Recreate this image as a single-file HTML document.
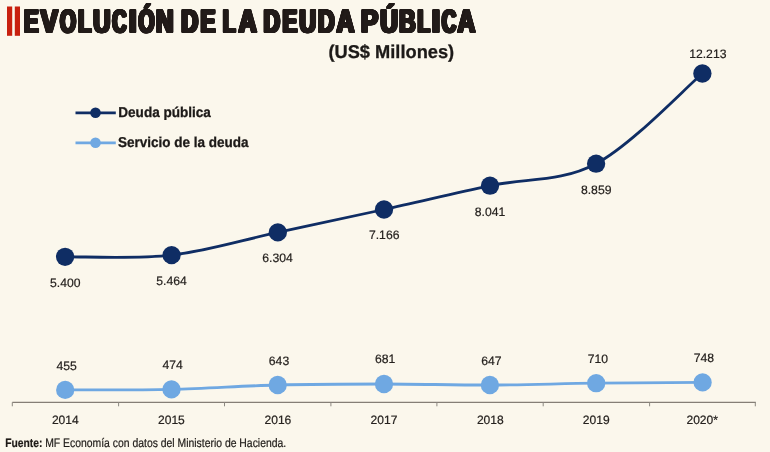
<!DOCTYPE html>
<html><head><meta charset="utf-8"><title>Evolución de la deuda pública</title>
<style>
html,body{margin:0;padding:0;background:#fbf7ec;}
body{width:770px;height:452px;overflow:hidden;position:relative;font-family:"Liberation Sans",sans-serif;}
svg{position:absolute;left:0;top:0;display:block;will-change:transform}
text{font-family:"Liberation Sans",sans-serif;fill:#26221f;text-rendering:geometricPrecision}
.v,.y{stroke:#26221f;stroke-width:0.2px}
.t{fill:#221b19}
.v{font-size:12.2px;text-anchor:middle}
.y{font-size:12.05px;text-anchor:middle}
</style></head><body>
<svg width="770" height="452" viewBox="0 0 770 452">
<rect x="0" y="0" width="770" height="452" fill="#fbf7ec"/>

<rect x="7" y="6.5" width="5.2" height="29.3" fill="#c8200f"/>
<rect x="14.8" y="6.5" width="5.2" height="29.3" fill="#c8200f"/>
<defs><g id="T" font-size="32.56" font-weight="bold" style="fill:#231c1a">
<text class="t" transform="translate(24.03,32.20) scale(0.6734,1)">E</text>
<text class="t" transform="translate(40.62,32.20) scale(0.7945,1)">V</text>
<text class="t" transform="translate(60.06,32.20) scale(0.6321,1)">O</text>
<text class="t" transform="translate(78.25,32.20) scale(0.6643,1)">L</text>
<text class="t" transform="translate(93.27,32.20) scale(0.7307,1)">U</text>
<text class="t" transform="translate(112.29,32.20) scale(0.6060,1)">C</text>
<text class="t" transform="translate(128.75,32.20) scale(0.8956,1)">I</text>
<text class="t" transform="translate(138.56,32.20) scale(0.6321,1)">Ó</text>
<text class="t" transform="translate(155.97,32.20) scale(0.7471,1)">N</text>
<text class="t" transform="translate(181.34,32.20) scale(0.7162,1)">D</text>
<text class="t" transform="translate(200.62,32.20) scale(0.6788,1)">E</text>
<text class="t" transform="translate(222.79,32.20) scale(0.6464,1)">L</text>
<text class="t" transform="translate(238.58,32.20) scale(0.7691,1)">A</text>
<text class="t" transform="translate(263.58,32.20) scale(0.6961,1)">D</text>
<text class="t" transform="translate(282.52,32.20) scale(0.6788,1)">E</text>
<text class="t" transform="translate(299.41,32.20) scale(0.7103,1)">U</text>
<text class="t" transform="translate(317.96,32.20) scale(0.7062,1)">D</text>
<text class="t" transform="translate(336.48,32.20) scale(0.7600,1)">A</text>
<text class="t" transform="translate(360.97,32.20) scale(0.7924,1)">P</text>
<text class="t" transform="translate(380.34,32.20) scale(0.7460,1)">Ú</text>
<text class="t" transform="translate(399.29,32.20) scale(0.6950,1)">B</text>
<text class="t" transform="translate(417.67,32.20) scale(0.6105,1)">L</text>
<text class="t" transform="translate(431.46,32.20) scale(0.9809,1)">I</text>
<text class="t" transform="translate(441.90,32.20) scale(0.6013,1)">C</text>
<text class="t" transform="translate(457.49,32.20) scale(0.7554,1)">A</text>
</g></defs>
<use href="#T" x="-1.30" y="-0.60"/>
<use href="#T" x="-0.98" y="-0.60"/>
<use href="#T" x="-0.65" y="-0.60"/>
<use href="#T" x="-0.33" y="-0.60"/>
<use href="#T" x="0.00" y="-0.60"/>
<use href="#T" x="0.33" y="-0.60"/>
<use href="#T" x="0.65" y="-0.60"/>
<use href="#T" x="0.98" y="-0.60"/>
<use href="#T" x="1.30" y="-0.60"/>
<use href="#T" x="-1.30" y="0.00"/>
<use href="#T" x="-0.98" y="0.00"/>
<use href="#T" x="-0.65" y="0.00"/>
<use href="#T" x="-0.33" y="0.00"/>
<use href="#T" x="0.00" y="0.00"/>
<use href="#T" x="0.33" y="0.00"/>
<use href="#T" x="0.65" y="0.00"/>
<use href="#T" x="0.98" y="0.00"/>
<use href="#T" x="1.30" y="0.00"/>
<use href="#T" x="-1.30" y="0.60"/>
<use href="#T" x="-0.98" y="0.60"/>
<use href="#T" x="-0.65" y="0.60"/>
<use href="#T" x="-0.33" y="0.60"/>
<use href="#T" x="0.00" y="0.60"/>
<use href="#T" x="0.33" y="0.60"/>
<use href="#T" x="0.65" y="0.60"/>
<use href="#T" x="0.98" y="0.60"/>
<use href="#T" x="1.30" y="0.60"/>
<text x="328.4" y="58.4" font-size="18.5" font-weight="bold" textLength="125.8" lengthAdjust="spacingAndGlyphs" style="fill:#1d1a18;stroke:#1d1a18;stroke-width:0.3px">(US$ Millones)</text>
<line x1="75.5" y1="112.8" x2="115.8" y2="112.8" stroke="#0f2d64" stroke-width="2.8"/><circle cx="95.5" cy="112.8" r="5.3" fill="#0f2d64"/>
<line x1="75.5" y1="142.8" x2="115.8" y2="142.8" stroke="#6fa8e2" stroke-width="2.8"/><circle cx="95.5" cy="142.8" r="5.3" fill="#6fa8e2"/>
<text x="118.3" y="116.8" font-size="14.2" font-weight="bold" textLength="92.6" lengthAdjust="spacingAndGlyphs" style="fill:#1d1a18;stroke:#1d1a18;stroke-width:0.3px">Deuda pública</text>
<text x="117.9" y="146.8" font-size="14.2" font-weight="bold" textLength="130.6" lengthAdjust="spacingAndGlyphs" style="fill:#1d1a18;stroke:#1d1a18;stroke-width:0.3px">Servicio de la deuda</text>
<path d="M12.3,402.3 H755.8" stroke="#857e76" stroke-width="1.3" fill="none"/>
<path d="M12.3,402.3 V406.3 M118.6,402.3 V406.3 M224.5,402.3 V406.3 M330.9,402.3 V406.3 M436.9,402.3 V406.3 M543.2,402.3 V406.3 M649.6,402.3 V406.3 M755.3,402.3 V406.3" stroke="#8c8880" stroke-width="1" fill="none"/>
<path d="M65.1,256.8 C82.8,256.5 136.1,259.2 171.6,255.1 C207.1,251.0 242.4,240.0 277.8,232.4 C313.2,224.8 348.6,217.3 384.0,209.5 C419.4,201.7 454.6,193.3 490.0,185.7 C525.4,178.1 560.7,182.4 596.1,163.7 C631.5,145.0 684.7,88.5 702.4,73.5" fill="none" stroke="#0f2d64" stroke-width="2.8" stroke-linecap="round"/>
<path d="M65.2,389.9 C82.9,389.8 136.1,390.2 171.5,389.4 C206.9,388.6 242.3,385.9 277.7,385.0 C313.1,384.1 348.6,384.0 384.0,384.0 C419.4,384.0 454.5,385.1 489.9,385.0 C525.3,384.9 560.8,383.6 596.2,383.2 C631.7,382.8 684.9,382.5 702.6,382.4" fill="none" stroke="#6fa8e2" stroke-width="2.8" stroke-linecap="round"/>
<circle cx="65.1" cy="256.8" r="9.15" fill="#0f2d64"/>
<circle cx="171.6" cy="255.1" r="9.15" fill="#0f2d64"/>
<circle cx="277.8" cy="232.4" r="9.15" fill="#0f2d64"/>
<circle cx="384.0" cy="209.5" r="9.15" fill="#0f2d64"/>
<circle cx="490.0" cy="185.7" r="9.15" fill="#0f2d64"/>
<circle cx="596.1" cy="163.7" r="9.15" fill="#0f2d64"/>
<circle cx="702.4" cy="73.5" r="9.15" fill="#0f2d64"/>
<circle cx="65.2" cy="389.9" r="9.15" fill="#6fa8e2"/>
<circle cx="171.5" cy="389.4" r="9.15" fill="#6fa8e2"/>
<circle cx="277.7" cy="385.0" r="9.15" fill="#6fa8e2"/>
<circle cx="384.0" cy="384.0" r="9.15" fill="#6fa8e2"/>
<circle cx="489.9" cy="385.0" r="9.15" fill="#6fa8e2"/>
<circle cx="596.2" cy="383.2" r="9.15" fill="#6fa8e2"/>
<circle cx="702.6" cy="382.4" r="9.15" fill="#6fa8e2"/>
<text class="v" x="65.3" y="286.6">5.400</text>
<text class="v" x="171.6" y="285.2">5.464</text>
<text class="v" x="277.6" y="262.0">6.304</text>
<text class="v" x="384.2" y="239.0">7.166</text>
<text class="v" x="490.0" y="215.5">8.041</text>
<text class="v" x="596.2" y="193.7">8.859</text>
<text class="v" x="707.8" y="57.9">12.213</text>
<text class="v" x="66.7" y="369.9">455</text>
<text class="v" x="172.7" y="369.3">474</text>
<text class="v" x="279.0" y="364.8">643</text>
<text class="v" x="385.2" y="363.4">681</text>
<text class="v" x="491.4" y="364.8">647</text>
<text class="v" x="597.9" y="363.2">710</text>
<text class="v" x="703.9" y="362.1">748</text>
<text class="y" x="65.3" y="423.8">2014</text>
<text class="y" x="171.4" y="423.8">2015</text>
<text class="y" x="277.9" y="423.8">2016</text>
<text class="y" x="384.0" y="423.8">2017</text>
<text class="y" x="490.3" y="423.8">2018</text>
<text class="y" x="596.2" y="423.8">2019</text>
<text class="y" x="702.2" y="423.8">2020*</text>
<text x="5.2" y="446.5" font-size="12.3" font-weight="bold" textLength="37.2" lengthAdjust="spacingAndGlyphs" style="fill:#1e1a17;stroke:#1e1a17;stroke-width:0.2px">Fuente:</text>
<text x="45.2" y="446.5" font-size="12.3" textLength="241" lengthAdjust="spacingAndGlyphs" style="fill:#1e1a17;stroke:#1e1a17;stroke-width:0.2px">MF Economía con datos del Ministerio de Hacienda.</text>
</svg>
</body></html>
